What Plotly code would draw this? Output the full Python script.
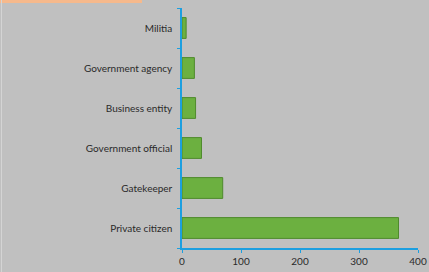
import plotly.graph_objects as go

categories = ["Private citizen", "Gatekeeper", "Government official",
              "Business entity", "Government agency", "Militia"]
values = [367, 69, 33, 23, 21, 7]
x_ticks = [0, 100, 200, 300, 400]

W, H = 429, 272
ml, mr, mt, mb = 182, 11, 8, 24

fig = go.Figure(go.Bar(
    y=categories, x=values, orientation="h",
    marker=dict(color="#6cb040", line=dict(color="#4f8a2c", width=1)),
    hoverinfo="skip",
))

axis_blue = "#1c9fe0"
fig.update_layout(
    width=W, height=H,
    margin=dict(l=ml, r=mr, t=mt, b=mb, autoexpand=False),
    paper_bgcolor="#c0c0c0", plot_bgcolor="#c0c0c0",
    bargap=0.48,
    showlegend=False,
    font=dict(family="Lato, Liberation Sans, sans-serif", size=10, color="#2a2a2a"),
    xaxis=dict(range=[0, 400], tickvals=x_ticks, showgrid=False, zeroline=False,
               showline=True, linecolor=axis_blue, linewidth=1.5,
               ticks="outside", ticklen=3, tickcolor=axis_blue,
               automargin=False, tickfont=dict(size=10)),
    yaxis=dict(type="category", categoryorder="array", categoryarray=categories,
               showgrid=False, zeroline=False, showline=True, linecolor=axis_blue,
               linewidth=1.5, ticks="outside", ticklen=3, tickcolor=axis_blue,
               tickson="boundaries", ticklabelstandoff=6, automargin=False,
               tickfont=dict(size=10)),
    shapes=[
        dict(type="rect", xref="paper", yref="paper",
             x0=-ml / (W - ml - mr), x1=(142 - ml) / (W - ml - mr),
             y0=1 + (mt - 3) / (H - mt - mb), y1=1 + mt / (H - mt - mb),
             fillcolor="#f6b98c", line=dict(width=0), layer="above"),
        dict(type="line", xref="paper", yref="paper",
             x0=(1.5 - ml) / (W - ml - mr), x1=(1.5 - ml) / (W - ml - mr),
             y0=-mb / (H - mt - mb), y1=1 + mt / (H - mt - mb),
             line=dict(color="#d4d4d4", width=1)),
    ],
)

fig.write_html(
    "out.html",
    config={"displayModeBar": False},
    post_script="document.body.style.margin='0';document.body.style.padding='0';"
                "document.body.style.overflow='hidden';",
)
